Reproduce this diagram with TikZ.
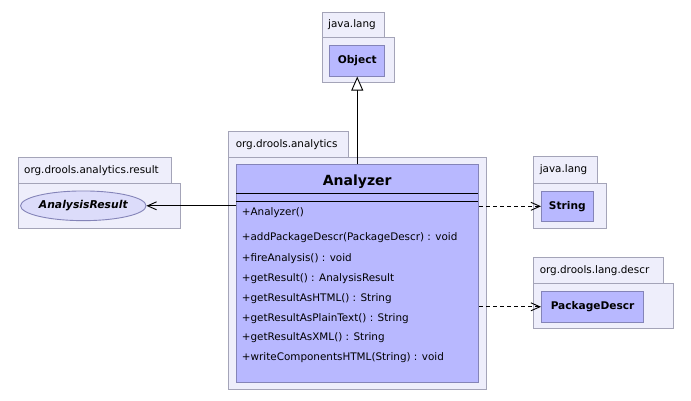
\documentclass[tikz,border=0pt]{standalone}
\usepackage{fontspec}
\setmainfont{DejaVu Sans}
\usetikzlibrary{arrows.meta,shapes.geometric}
\definecolor{pkgfill}{HTML}{EEEEFB}
\definecolor{pkgdraw}{HTML}{A4A4B8}
\definecolor{clsfill}{HTML}{B8B8FF}
\definecolor{clsdraw}{HTML}{8484B8}
\definecolor{ellfill}{HTML}{DCDCFA}
\tikzset{
  pkg/.style={draw=pkgdraw, fill=pkgfill, line width=0.9pt, inner sep=0pt, anchor=north west},
  pkgtab/.style={pkg, inner xsep=6pt, align=left, font=\fontsize{10.4}{12}\selectfont},
  cls/.style={draw=clsdraw, fill=clsfill, line width=0.9pt, inner sep=0pt, anchor=north west, font=\bfseries\fontsize{10.6}{12}\selectfont},
  meth/.style={anchor=west, inner sep=0pt, font=\fontsize{10.4}{12}\selectfont},
  assoc/.style={-{Straight Barb[length=9pt,width=8pt]}, line width=0.9pt},
  dep/.style={-{Straight Barb[length=9pt,width=8pt]}, line width=0.9pt, dash pattern=on 4pt off 3pt},
  inherit/.style={-{Triangle[open,length=14pt,width=12pt,fill=white]}, line width=0.9pt}
}
\begin{document}
\begin{tikzpicture}[x=1pt,y=-1pt]
\useasboundingbox (0,0) rectangle (691,401);
% java.lang (Object)
\node[pkgtab, minimum height=25pt, text width=50.6pt] (jl1tab) at (321.7,11.7) {java.lang};
\node[pkg, minimum width=72.6pt, minimum height=45.6pt] (jl1) at (321.7,36.7) {};
\node[cls, minimum width=55pt, minimum height=30.7pt] (obj) at (329.3,45) {Object};
% org.drools.analytics
\node[pkgtab, minimum height=26pt, text width=106pt, inner xsep=7pt] (odatab) at (228.3,130.7) {org.drools.analytics};
\node[pkg, minimum width=257.4pt, minimum height=232.6pt] (oda) at (228.3,156.7) {};
\node[cls, minimum width=242.3pt, minimum height=217.4pt] (az) at (236,164.3) {};
\node[font=\bfseries\fontsize{14}{16}\selectfont, inner sep=0pt] (aztitle) at (357.2,181.7) {Analyzer};
\draw[line width=0.9pt] (236,193.3) -- (478.3,193.3);
\draw[line width=0.9pt] (236,201) -- (478.3,201);
\node[meth] (m0) at (241.7,212.3) {+Analyzer()};
\node[meth] (m1) at (241.7,237.7) {+addPackageDescr(PackageDescr) : void};
\node[meth] (m2) at (241.7,258.3) {+fireAnalysis() : void};
\node[meth] (m3) at (241.7,279) {+getResult() : AnalysisResult};
\node[meth] (m4) at (241.7,299) {+getResultAsHTML() : String};
\node[meth] (m5) at (241.7,318.3) {+getResultAsPlainText() : String};
\node[meth] (m6) at (241.7,337.7) {+getResultAsXML() : String};
\node[meth] (m7) at (241.7,357.7) {+writeComponentsHTML(String) : void};
% org.drools.analytics.result
\node[pkgtab, minimum height=26pt, text width=141.3pt] (oartab) at (17.7,157.3) {org.drools.analytics.result};
\node[pkg, minimum width=162.6pt, minimum height=45pt] (oar) at (17.7,183.3) {};
\node[ellipse, draw=clsdraw, fill=ellfill, line width=0.9pt, inner sep=0pt, minimum width=118pt, minimum height=29.7pt, font=\bfseries\itshape\fontsize{10.8}{12}\selectfont] (ar) at (83.3,205.8) {AnalysisResult};
% java.lang (String)
\node[pkgtab, minimum height=27.3pt, text width=51.4pt] (jl2tab) at (533.3,156) {java.lang};
\node[pkg, minimum width=72.4pt, minimum height=45pt] (jl2) at (533.3,183.3) {};
\node[cls, minimum width=51.7pt, minimum height=29.7pt] (str) at (541,191) {String};
% org.drools.lang.descr
\node[pkgtab, minimum height=26pt, text width=118pt] (oldtab) at (533.3,257.3) {org.drools.lang.descr};
\node[pkg, minimum width=140pt, minimum height=45pt] (old) at (533.3,283.3) {};
\node[cls, minimum width=102.3pt, minimum height=30.7pt] (pd) at (541,291) {PackageDescr};
% connectors
\draw[inherit] (az.north -| obj.south) -- (obj.south);
\draw[assoc] (ar.east -| az.west) -- (ar.east);
\draw[dep] (str.west -| az.east) -- (str.west);
\draw[dep] (pd.west -| az.east) -- (pd.west);
\end{tikzpicture}
\end{document}
